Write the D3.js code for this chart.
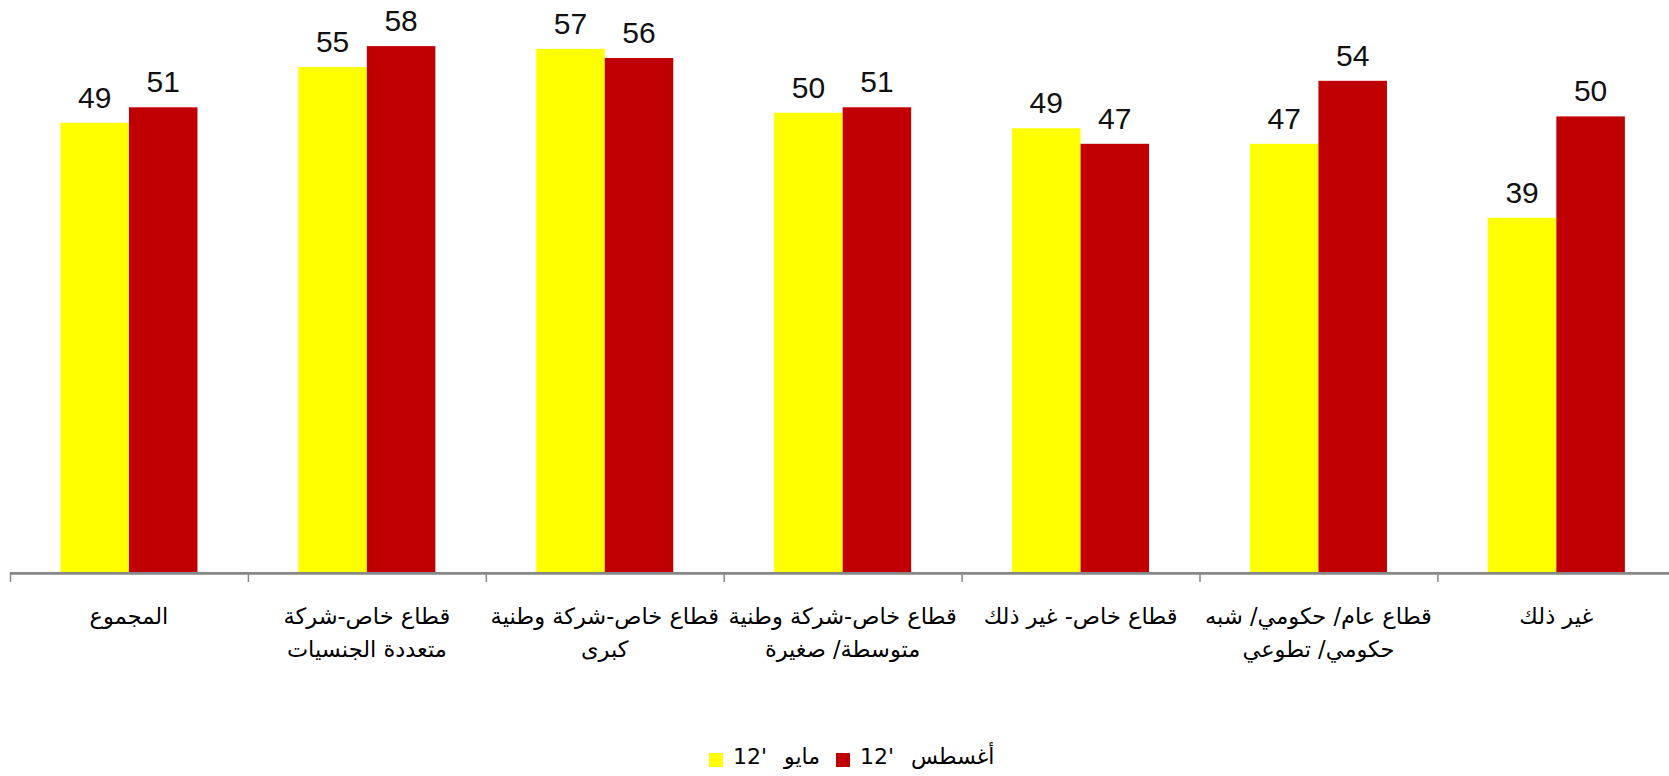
<!DOCTYPE html>
<html>
<head>
<meta charset="utf-8">
<script src="https://cdn.jsdelivr.net/npm/d3@7"></script>
<style>
  body { margin: 0; background: #fff; }
  svg { display: block; }
</style>
</head>
<body>
<svg id="chart" width="1669" height="776"></svg>
<script>
// Categories (line breaks as in the original wrapping).
const categories = [
  "المجموع",
  "قطاع خاص-شركة\nمتعددة الجنسيات",
  "قطاع خاص-شركة وطنية\nكبرى",
  "قطاع خاص-شركة وطنية\nمتوسطة/ صغيرة",
  "قطاع خاص- غير ذلك",
  "قطاع عام/ حكومي/ شبه\nحكومي/ تطوعي",
  "غير ذلك"
];

// Series names and colours.
const seriesNames = ["مايو '12", "أغسطس '12"];
const seriesColors = ["#ffff00", "#c00000"];

// Values per series (labels are rounded).
const may12 = [49.2, 55.3, 57.3, 50.3, 48.6, 46.9, 38.8];
const aug12 = [50.9, 57.6, 56.3, 50.9, 46.9, 53.8, 49.9];

const seriesValues = [may12, aug12];

// Build rows for d3.
const rows = categories.map(function (c, i) {
  return { cat: c, vals: seriesValues.map(function (s) { return s[i]; }) };
});

const svg = d3.select("#chart");
const fmt = d3.format(".0f");

// Layout.
const left = 10, step = 237.9;
const baseY = 572, topY = 24.2;

const x0 = d3.scaleBand()
  .domain(categories)
  .range([left, left + step * categories.length])
  .padding(0);

const x1 = d3.scaleBand()
  .domain(d3.range(seriesNames.length))
  .range([0, x0.bandwidth()])
  .paddingInner(0)
  .paddingOuter(0.736);

const y = d3.scaleLinear().domain([0, 60]).range([baseY, topY]);

// Bars.
const groups = svg.selectAll("g.grp")
  .data(rows)
  .enter()
  .append("g")
  .attr("class", "grp")
  .attr("transform", function (d) { return "translate(" + x0(d.cat) + ",0)"; });

groups.selectAll("rect")
  .data(function (d) { return d.vals; })
  .enter()
  .append("rect")
  .attr("x", function (d, i) { return x1(i); })
  .attr("y", function (d) { return y(d); })
  .attr("width", x1.bandwidth())
  .attr("height", function (d) { return baseY - y(d); })
  .style("fill", function (d, i) { return seriesColors[i]; });

// Value labels.
groups.selectAll("text.val")
  .data(function (d) { return d.vals; })
  .enter()
  .append("text")
  .attr("class", "val")
  .attr("x", function (d, i) { return x1(i) + x1.bandwidth() / 2; })
  .attr("y", function (d) { return y(d) - 15; })
  .attr("text-anchor", "middle")
  .style("font-family", "Liberation Sans Narrow, Liberation Sans, Arial, sans-serif")
  .style("font-size", "30px")
  .style("fill", "#111")
  .text(function (d) { return fmt(d); });

// X axis line and ticks.
svg.append("line")
  .attr("x1", left).attr("x2", 1669)
  .attr("y1", baseY + 1.3).attr("y2", baseY + 1.3)
  .style("stroke", "#878787")
  .style("stroke-width", 2.7);

svg.selectAll("line.tick")
  .data(categories)
  .enter()
  .append("line")
  .attr("class", "tick")
  .attr("x1", function (d) { return x0(d) + 0.5; })
  .attr("x2", function (d) { return x0(d) + 0.5; })
  .attr("y1", baseY)
  .attr("y2", baseY + 10)
  .style("stroke", "#878787")
  .style("stroke-width", 1.5);

// Category labels.
const catLabels = svg.selectAll("text.cat")
  .data(categories)
  .enter()
  .append("text")
  .attr("class", "cat")
  .attr("direction", "rtl")
  .attr("text-anchor", "middle")
  .style("font-family", "DejaVu Sans, sans-serif")
  .style("font-size", "22.5px")
  .style("fill", "#000");

catLabels.selectAll("tspan")
  .data(function (d) {
    return d.split("\n").map(function (t) { return { t: t, cat: d }; });
  })
  .enter()
  .append("tspan")
  .attr("x", function (d) { return x0(d.cat) + x0.bandwidth() / 2; })
  .attr("y", function (d, i) { return 624 + i * 33; })
  .text(function (d) { return d.t; });

// Legend.
const legend = svg.append("g");
const legendY = 764;
let lx = 709;
seriesNames.forEach(function (name, i) {
  legend.append("rect")
    .attr("x", lx)
    .attr("y", legendY - 11)
    .attr("width", 14)
    .attr("height", 14)
    .style("fill", seriesColors[i]);
  const t = legend.append("text")
    .attr("y", legendY)
    .attr("direction", "rtl")
    .attr("text-anchor", "middle")
    .style("font-family", "DejaVu Sans, sans-serif")
    .style("font-size", "22px")
    .style("word-spacing", "10px")
    .style("fill", "#000")
    .text(name);
  const w = t.node().getComputedTextLength();
  t.attr("x", lx + 24 + w / 2);
  lx = lx + 24 + w + 16;
});
</script>
</body>
</html>
